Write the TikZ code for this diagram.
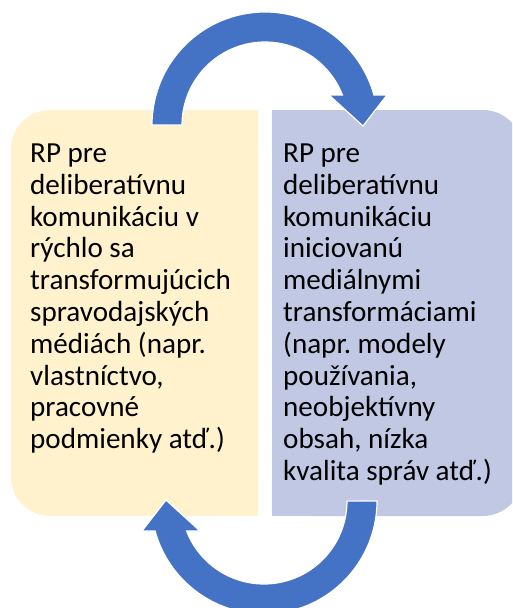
\documentclass[tikz,border=0pt]{standalone}
\usepackage{fontspec}
\setmainfont{Carlito}
\frenchspacing
\definecolor{boxyellow}{RGB}{255,242,204}
\definecolor{boxblue}{RGB}{192,200,228}
\definecolor{arrowblue}{RGB}{68,114,196}
\newcommand\cyclearrowpath{(152,125) arc[start angle=180,end angle=344.6,radius=113] -- (387,95) -- (363,126) -- (329,95) -- (342.4,95) arc[start angle=338.8,end angle=180,radius=83] -- cycle}
\begin{document}
\begin{tikzpicture}[x=1pt,y=-1pt,
  boxtext/.style={anchor=north west,inner sep=0pt,align=left,text=black,
    font=\fontsize{29.1}{31.8}\selectfont},
  cyclearrow/.style={fill=arrowblue,draw=white,line width=1.2pt,line join=miter}]
\clip (0,0) rectangle (512,608);
% left box
\fill[boxyellow,rounded corners=39pt] (11,110) rectangle (258,516);
\fill[boxyellow] (150,110) rectangle (258,516);
% right box
\fill[boxblue,rounded corners=39pt] (272,110) rectangle (522,516);
\fill[boxblue] (272,110) rectangle (400,516);
% texts
\node[boxtext] (lefttext) at (30,143.6) {RP pre\\deliberatívnu\\komunikáciu v\\rýchlo sa\\transformujúcich\\spravodajských\\médiách (napr.\\vlastníctvo,\\pracovné\\podmienky atď.)};
\node[boxtext] (righttext) at (283,143.6) {RP pre\\deliberatívnu\\komunikáciu\\iniciovanú\\mediálnymi\\transformáciami\\(napr. modely\\používania,\\neobjektívny\\obsah, nízka\\kvalita správ atď.)};
% arrows
\draw[cyclearrow] \cyclearrowpath;
\begin{scope}[rotate around={180:(264.5,313)}]
\draw[cyclearrow] \cyclearrowpath;
\end{scope}
\end{tikzpicture}
\end{document}
